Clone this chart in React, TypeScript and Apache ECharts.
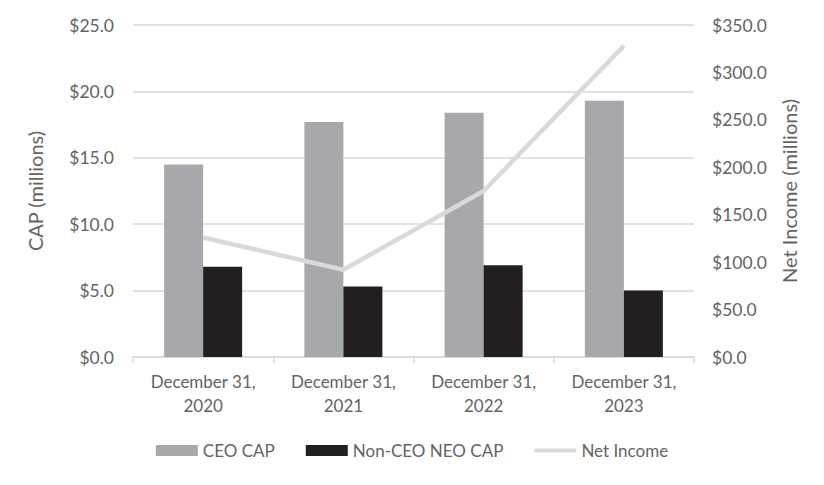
import React, { useEffect, useRef } from "react";
import * as echarts from "echarts";

const categories = ["December 31,\n2020", "December 31,\n2021", "December 31,\n2022", "December 31,\n2023"];
const ceoCap = [14.5, 17.7, 18.4, 19.3];
const nonCeoCap = [6.8, 5.3, 6.9, 5.0];
const netIncome = [126, 92, 175, 328];

const FONT = "Lato";
const TEXT = "#636363";

export default function App() {
  const ref = useRef<HTMLDivElement>(null);
  useEffect(() => {
    if (!ref.current) return;
    const chart = echarts.init(ref.current, undefined, { renderer: "svg" });
    chart.setOption({
      animation: false,
      backgroundColor: "#ffffff",
      textStyle: { fontFamily: FONT, color: TEXT },
      grid: { left: 133, right: 130, top: 25, bottom: 128 },
      legend: {
        bottom: 21,
        left: "center",
        itemWidth: 42,
        itemHeight: 11,
        itemGap: 31,
        textStyle: { fontFamily: FONT, fontSize: 17, color: TEXT },
        data: [
          { name: "CEO CAP", icon: "rect" },
          { name: "Non-CEO NEO CAP", icon: "rect" },
          { name: "Net Income", icon: "path://M0,0 H42 V4 H0 Z" },
        ],
      },
      xAxis: {
        type: "category",
        data: categories,
        axisLine: { lineStyle: { color: "#d9d9d9", width: 1.5 } },
        axisTick: { show: true, length: 6, lineStyle: { color: "#d9d9d9", width: 1.5 } },
        axisLabel: { interval: 0, fontFamily: FONT, fontSize: 17, color: TEXT, lineHeight: 24, margin: 12 },
      },
      yAxis: [
        {
          type: "value",
          min: 0,
          max: 25,
          interval: 5,
          name: "CAP (millions)",
          nameLocation: "middle",
          nameRotate: 90,
          nameGap: 88,
          nameTextStyle: { fontFamily: FONT, fontSize: 20, color: TEXT },
          axisLine: { show: false },
          axisTick: { show: false },
          axisLabel: {
            fontFamily: FONT,
            fontSize: 17.5,
            color: TEXT,
            margin: 19,
            formatter: (v: number) => "$" + v.toFixed(1),
          },
          splitLine: { lineStyle: { color: "#d9d9d9", width: 1.5 } },
        },
        {
          type: "value",
          min: 0,
          max: 350,
          interval: 50,
          name: "Net Income (millions)",
          nameLocation: "middle",
          nameRotate: 90,
          nameGap: 85,
          nameTextStyle: { fontFamily: FONT, fontSize: 20, color: TEXT },
          axisLine: { show: false },
          axisTick: { show: false },
          axisLabel: {
            fontFamily: FONT,
            fontSize: 17.5,
            color: TEXT,
            margin: 18,
            formatter: (v: number) => "$" + v.toFixed(1),
          },
          splitLine: { show: false },
        },
      ],
      series: [
        {
          name: "CEO CAP",
          type: "bar",
          data: ceoCap,
          barWidth: 39,
          barGap: "0%",
          itemStyle: { color: "#a7a8ab" },
        },
        {
          name: "Non-CEO NEO CAP",
          type: "bar",
          data: nonCeoCap,
          barWidth: 39,
          barGap: "0%",
          itemStyle: { color: "#231f20" },
        },
        {
          name: "Net Income",
          type: "line",
          yAxisIndex: 1,
          data: netIncome,
          symbol: "none",
          lineStyle: { color: "#d9d9d9", width: 4.5 },
          itemStyle: { color: "#d9d9d9" },
        },
      ],
    });
    return () => chart.dispose();
  }, []);
  return (
    <div
      style={{
        position: "fixed",
        left: 0,
        top: 0,
        width: 824,
        height: 485,
        boxSizing: "border-box",
        border: "2px solid #d9d9d9",
        background: "#fff",
      }}
    >
      <div ref={ref} style={{ position: "absolute", left: -2, top: -2, width: 824, height: 485 }} />
    </div>
  );
}
